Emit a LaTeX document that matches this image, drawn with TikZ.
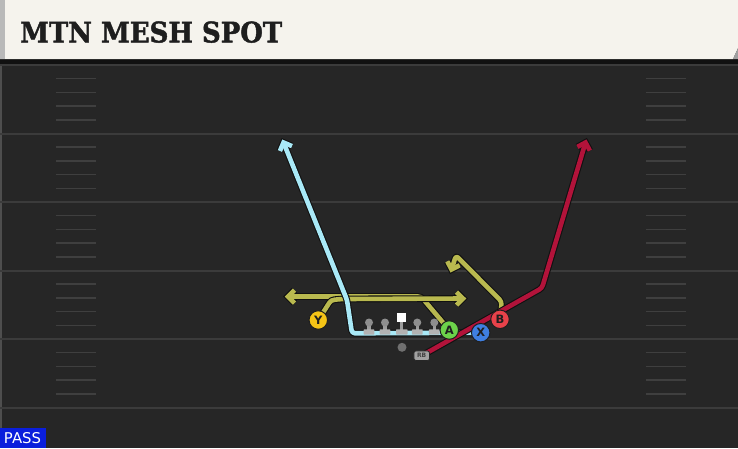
\documentclass[tikz,border=0pt]{standalone}
\usepackage{fontspec}
\usepackage{graphicx}
\usetikzlibrary{decorations.markings}
\newfontfamily\titlefont{DejaVu Serif}[UprightFont={* Bold},RawFeature={embolden=1.6}]
\newfontfamily\lblfont{DejaVu Sans}
\definecolor{fieldbg}{HTML}{262626}
\definecolor{yardcol}{HTML}{3B3B3B}
\definecolor{hashcol}{HTML}{3F3F3F}
\definecolor{headcream}{HTML}{F5F3ED}
\definecolor{titlecol}{HTML}{1E1E1E}
\definecolor{passblue}{HTML}{0A1EDC}
\definecolor{olivecol}{HTML}{B9B94F}
\definecolor{lbluecol}{HTML}{A9E9F7}
\definecolor{redcol}{HTML}{B2133A}
\definecolor{ycol}{HTML}{F5C416}
\definecolor{acol}{HTML}{6CD24A}
\definecolor{xcol}{HTML}{3F7FE0}
\definecolor{bcol}{HTML}{E8424A}
\definecolor{headgray}{HTML}{8E8E8E}
\definecolor{basegray}{HTML}{B2B2B2}
\definecolor{stemgray}{HTML}{9C9C9C}
\definecolor{qbgray}{HTML}{707070}
\definecolor{rbgray}{HTML}{A2A2A2}
\definecolor{outl}{HTML}{111111}
\pgfdeclarelayer{fieldlayer}
\pgfdeclarelayer{routelayer}
\pgfsetlayers{fieldlayer,routelayer,main}
\newcommand\rte[2]{%
 \draw[rtout,postaction={decorate,decoration={markings,mark=at position 1 with {\draw[chevron,draw=outl,line width=6.8pt] (-6.5,-6.5) -- (0,0) -- (-6.5,6.5);}}}] #2;
 \draw[rtin,draw=#1,postaction={decorate,decoration={markings,mark=at position 1 with {\draw[chevron,draw=#1,line width=4.6pt] (-6.5,-6.5) -- (0,0) -- (-6.5,6.5);}}}] #2;}
\begin{document}
\begin{tikzpicture}[x=1pt,y=-1pt,
  yardline/.style={draw=yardcol,line width=2pt},
  hashline/.style={draw=hashcol,line width=1.5pt},
  rtout/.style={draw=outl,line width=6.8pt,rounded corners=3pt,line join=round},
  rtin/.style={line width=4.6pt,rounded corners=3pt,line join=round},
  chevron/.style={sharp corners,line join=miter,miter limit=5,line cap=butt},
  player/.style={circle,draw=black!88,line width=1pt,minimum size=18.5pt,inner sep=0pt,
    font=\lblfont\bfseries\fontsize{11.5}{11.5}\selectfont,text=black!88},
  linehead/.style={circle,fill=headgray,minimum size=8pt,inner sep=0pt},
  centersq/.style={rectangle,fill=white,minimum size=8.3pt,inner sep=0pt},
]
\useasboundingbox (0,0) rectangle (738,448);
\begin{pgfonlayer}{fieldlayer}
\fill[fieldbg] (0,0) rectangle (738,448);
\fill[black!55!fieldbg] (0,59) rectangle (738,64);
\fill[headcream] (0,0) -- (738,0) -- (738,48) -- (733,59) -- (0,59) -- cycle;
\fill[gray!75] (733,59) -- (738,48) -- (738,59) -- cycle;
\fill[gray!55] (0,0) rectangle (5,59);
\draw[draw=gray!45!fieldbg,line width=2pt] (1,64) -- (1,448);
\foreach \k in {0,...,5} \draw[yardline] (0,{65+68.5*\k}) -- (738,{65+68.5*\k});
\foreach \k in {0,...,4} \foreach \i in {1,...,4} {
  \draw[hashline] (56,{65+68.5*\k+13.7*\i}) -- (96,{65+68.5*\k+13.7*\i});
  \draw[hashline] (646,{65+68.5*\k+13.7*\i}) -- (686,{65+68.5*\k+13.7*\i});
}
\end{pgfonlayer}
% title and tag
\node[anchor=south west,inner sep=0pt,text=titlecol] (title) at (20,43)
  {\resizebox{262pt}{21pt}{\titlefont MTN MESH SPOT}};
\node[fill=passblue,minimum width=46pt,minimum height=20pt,inner sep=0pt,anchor=north west] (passbox) at (0,428) {};
\node[inner sep=0pt,text=white] (pass) at (22.5,438.4) {\resizebox{37pt}{11pt}{\lblfont PASS}};
% linemen
\foreach \x/\n in {369/L1,385/L2,417.3/L3,434.3/L4} {
  \fill[stemgray] (\x-1.7,322) rectangle (\x+1.7,330);
  \fill[basegray,rounded corners=0.6pt] (\x-5.4,329.3) rectangle (\x+5.4,334.5);
  \node[linehead] (\n) at (\x,322.5) {};
}
\fill[stemgray] (400,321) rectangle (403.4,330);
\fill[basegray,rounded corners=0.6pt] (396,329.3) rectangle (407.6,334.5);
\node[centersq] (C) at (401.5,317.6) {};
\node[circle,fill=qbgray,minimum size=9pt,inner sep=0pt] (QB) at (402,347.3) {};
\node[rectangle,rounded corners=2pt,fill=rbgray,draw=black!85,line width=0.7pt,minimum width=15.5pt,minimum height=9.5pt,inner sep=0pt,
  font=\lblfont\bfseries\fontsize{6}{6}\selectfont,text=black!75] (RB) at (421.7,355.7) {RB};
% skill players
\node[player,fill=ycol] (Y) at (318.3,320) {Y};
\node[player,fill=acol] (A) at (449.3,330) {A};
\node[player,fill=xcol] (X) at (480.7,332.7) {X};
\node[player,fill=bcol] (B) at (500,319.3) {B};
% routes
\begin{pgfonlayer}{routelayer}
\rte{olivecol}{(A.center) -- (421,296.5) -- (288,296.5)}
\rte{olivecol}{(Y.center) -- (326,308) .. controls (331,300) .. (342,299) -- (463,298.5)}
\rte{olivecol}{(B.center) -- (501.7,301.7) -- (456,255.5) -- (451.5,269.5)}
\rte{lbluecol}{(X.center) -- (352,333.3) -- (347,300) -- (283.5,142.5)}
\rte{redcol}{(RB.center) -- (542,288) -- (585.5,142.5)}
\end{pgfonlayer}
\end{tikzpicture}
\end{document}
